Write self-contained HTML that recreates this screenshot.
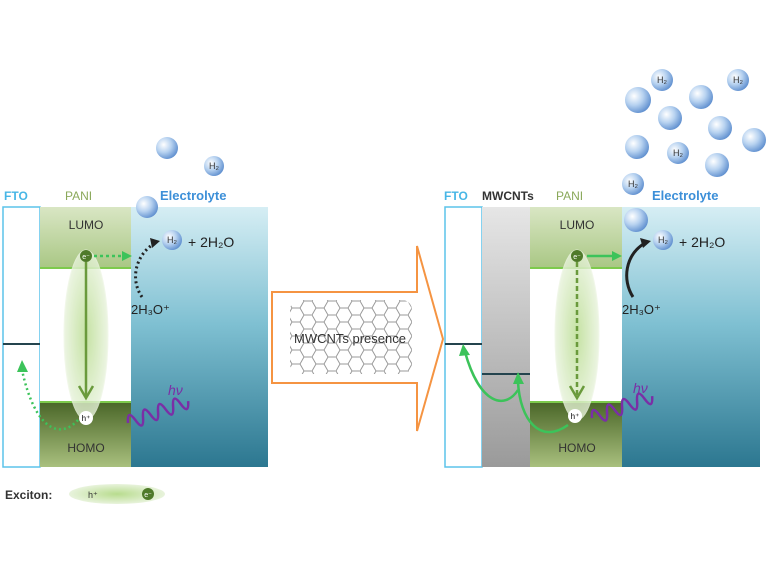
<!DOCTYPE html>
<html><head><style>body{margin:0;background:#fff}svg{display:block}text{font-family:"Comic Sans MS","Liberation Sans",sans-serif}</style></head><body>
<svg width="768" height="576" viewBox="0 0 768 576" xmlns="http://www.w3.org/2000/svg">
<defs>
<linearGradient id="el" x1="0" y1="0" x2="0" y2="1"><stop offset="0" stop-color="#d6eef4"/><stop offset="0.45" stop-color="#7fc0d2"/><stop offset="1" stop-color="#2c7790"/></linearGradient>
<linearGradient id="lu" x1="0" y1="0" x2="0" y2="1"><stop offset="0" stop-color="#d9e6c4"/><stop offset="1" stop-color="#a9c784"/></linearGradient>
<linearGradient id="ho" x1="0" y1="0" x2="0" y2="1"><stop offset="0" stop-color="#4a6628"/><stop offset="1" stop-color="#a9c07e"/></linearGradient>
<linearGradient id="gr" x1="0" y1="0" x2="0" y2="1"><stop offset="0" stop-color="#e6e6e6"/><stop offset="1" stop-color="#9a9a9a"/></linearGradient>
<radialGradient id="ex" cx="0.5" cy="0.5" r="0.5"><stop offset="0" stop-color="#b8dc8e"/><stop offset="1" stop-color="#e8f3dc"/></radialGradient>
<radialGradient id="bb" cx="0.35" cy="0.35" r="0.7"><stop offset="0" stop-color="#ffffff"/><stop offset="0.5" stop-color="#b7d2f0"/><stop offset="1" stop-color="#5f8fcf"/></radialGradient>
<pattern id="hex" width="24" height="14" patternUnits="userSpaceOnUse">
<path d="M0 7 L4 0 L12 0 L16 7 L12 14 L4 14 Z M16 7 L24 7" fill="none" stroke="#9a9a9a" stroke-width="1"/>
</pattern>
</defs>
<!-- LEFT -->
<rect x="3" y="207" width="37" height="260" fill="#fff" stroke="#5cc3ea" stroke-width="1.5"/>
<rect x="40" y="207" width="91" height="61" fill="url(#lu)"/>
<rect x="40" y="268" width="91" height="134" fill="#fff"/>
<rect x="40" y="402" width="91" height="65" fill="url(#ho)"/>
<line x1="40" y1="268" x2="131" y2="268" stroke="#7dca4c" stroke-width="2"/>
<line x1="40" y1="402" x2="131" y2="402" stroke="#7dca4c" stroke-width="2"/>
<rect x="131" y="207" width="137" height="260" fill="url(#el)"/>
<ellipse cx="86" cy="335" rx="22" ry="85" fill="url(#ex)" opacity="0.8" stroke="#eef6e4"/>
<line x1="3" y1="344" x2="40" y2="344" stroke="#24444e" stroke-width="2"/>
<line x1="86" y1="262" x2="86" y2="396" stroke="#6a9a3c" stroke-width="2.5"/>
<path d="M79 386 L86 398 L93 386" fill="none" stroke="#6a9a3c" stroke-width="2.5"/>
<circle cx="86" cy="256" r="6" fill="#4f7a2a"/><text x="86" y="259" font-size="7" fill="#fff" text-anchor="middle">e⁻</text>
<circle cx="86" cy="418" r="7" fill="#fff"/><text x="86" y="421" font-size="8" text-anchor="middle">h⁺</text>
<path d="M94 256 L124 256" stroke="#3cc35a" stroke-width="2.5" stroke-dasharray="3,3"/><path d="M122 251 L132 256 L122 261Z" fill="#3cc35a"/>
<path d="M142 297 C130 280 135 255 155 243" fill="none" stroke="#222" stroke-width="3" stroke-dasharray="2,3"/><path d="M150 238 L160 241 L152 248Z" fill="#222"/>
<path d="M78 420 C60 440 35 430 22 370" fill="none" stroke="#3cc35a" stroke-width="2.5" stroke-dasharray="2,3"/><path d="M17 372 L22 360 L28 372Z" fill="#3cc35a"/>
<path d="M128 423 q4 -14 8 0 q4 14 8 0 q4 -14 8 0 q4 14 8 0 q4 -14 8 0 q4 14 8 0 q4 -14 8 0 q4 14 8 0" transform="rotate(-20 128 423)" fill="none" stroke="#7a2fa6" stroke-width="2.5"/>
<text x="168" y="395" font-size="14" fill="#7a2fa6" font-style="italic">hν</text>
<text x="4" y="200" font-size="12" fill="#47b6e6" font-weight="bold">FTO</text>
<text x="65" y="200" font-size="12" fill="#8aa85a">PANI</text>
<text x="160" y="200" font-size="13" fill="#3c8fd8" font-weight="bold">Electrolyte</text>
<text x="86" y="229" font-size="12" fill="#333" text-anchor="middle">LUMO</text>
<text x="86" y="452" font-size="12" fill="#333" text-anchor="middle">HOMO</text>
<text x="131" y="314" font-size="13" fill="#222">2H₃O⁺</text>
<text x="188" y="247" font-size="14" fill="#222">+ 2H₂O</text>
<!-- arrow -->
<path d="M272 292 L417 292 L417 246 L443 339 L417 431 L417 383 L272 383 Z" fill="#fff" stroke="#f59442" stroke-width="2"/>
<rect x="290" y="300" width="122" height="74" rx="10" fill="url(#hex)"/>
<text x="350" y="343" font-size="13" fill="#333" text-anchor="middle">MWCNTs presence</text>
<!-- RIGHT -->
<rect x="445" y="207" width="37" height="260" fill="#fff" stroke="#5cc3ea" stroke-width="1.5"/>
<rect x="482" y="207" width="48" height="260" fill="url(#gr)"/>
<rect x="530" y="207" width="92" height="61" fill="url(#lu)"/>
<rect x="530" y="268" width="92" height="134" fill="#fff"/>
<rect x="530" y="402" width="92" height="65" fill="url(#ho)"/>
<line x1="530" y1="268" x2="622" y2="268" stroke="#7dca4c" stroke-width="2"/>
<line x1="530" y1="402" x2="622" y2="402" stroke="#7dca4c" stroke-width="2"/>
<rect x="622" y="207" width="138" height="260" fill="url(#el)"/>
<ellipse cx="577" cy="335" rx="22" ry="85" fill="url(#ex)" opacity="0.8" stroke="#eef6e4"/>
<line x1="445" y1="344" x2="482" y2="344" stroke="#24444e" stroke-width="2"/>
<line x1="482" y1="374" x2="530" y2="374" stroke="#24444e" stroke-width="2"/>
<line x1="577" y1="262" x2="577" y2="396" stroke="#6a9a3c" stroke-width="2.5" stroke-dasharray="5,3"/>
<path d="M570 386 L577 398 L584 386" fill="none" stroke="#6a9a3c" stroke-width="2.5"/>
<circle cx="577" cy="256" r="6" fill="#4f7a2a"/><text x="577" y="259" font-size="7" fill="#fff" text-anchor="middle">e⁻</text>
<circle cx="575" cy="416" r="7" fill="#fff"/><text x="575" y="419" font-size="8" text-anchor="middle">h⁺</text>
<path d="M587 256 L614 256" stroke="#3cc35a" stroke-width="2.5"/><path d="M612 251 L622 256 L612 261Z" fill="#3cc35a"/>
<path d="M633 297 C622 280 625 255 645 243" fill="none" stroke="#222" stroke-width="3"/><path d="M640 238 L651 241 L643 248Z" fill="#222"/>
<path d="M568 425 C540 445 520 420 518 382" fill="none" stroke="#3cc35a" stroke-width="2.5"/><path d="M513 384 L518 372 L524 384Z" fill="#3cc35a"/>
<path d="M518 390 C505 410 480 405 465 352" fill="none" stroke="#3cc35a" stroke-width="2.5"/><path d="M459 356 L463 344 L470 355Z" fill="#3cc35a"/>
<path d="M592 418 q4 -14 8 0 q4 14 8 0 q4 -14 8 0 q4 14 8 0 q4 -14 8 0 q4 14 8 0 q4 -14 8 0 q4 14 8 0" transform="rotate(-20 592 418)" fill="none" stroke="#7a2fa6" stroke-width="2.5"/>
<text x="633" y="393" font-size="14" fill="#7a2fa6" font-style="italic">hν</text>
<text x="444" y="200" font-size="12" fill="#47b6e6" font-weight="bold">FTO</text>
<text x="482" y="200" font-size="12" fill="#333" font-weight="bold">MWCNTs</text>
<text x="556" y="200" font-size="12" fill="#8aa85a">PANI</text>
<text x="652" y="200" font-size="13" fill="#3c8fd8" font-weight="bold">Electrolyte</text>
<text x="577" y="229" font-size="12" fill="#333" text-anchor="middle">LUMO</text>
<text x="577" y="452" font-size="12" fill="#333" text-anchor="middle">HOMO</text>
<text x="622" y="314" font-size="13" fill="#222">2H₃O⁺</text>
<text x="679" y="247" font-size="14" fill="#222">+ 2H₂O</text>
<!-- bubbles -->
<g fill="url(#bb)">
<circle cx="167" cy="148" r="11"/><circle cx="147" cy="207" r="11"/>
<circle cx="638" cy="100" r="13"/><circle cx="701" cy="97" r="12"/><circle cx="670" cy="118" r="12"/><circle cx="720" cy="128" r="12"/><circle cx="754" cy="140" r="12"/><circle cx="637" cy="147" r="12"/><circle cx="717" cy="165" r="12"/><circle cx="636" cy="220" r="12"/>
</g>
<g font-size="9" fill="#333" text-anchor="middle">
<circle cx="214" cy="166" r="10" fill="url(#bb)"/><text x="214" y="169">H₂</text>
<circle cx="172" cy="240" r="10" fill="url(#bb)"/><text x="172" y="243">H₂</text>
<circle cx="662" cy="80" r="11" fill="url(#bb)"/><text x="662" y="83">H₂</text>
<circle cx="738" cy="80" r="11" fill="url(#bb)"/><text x="738" y="83">H₂</text>
<circle cx="678" cy="153" r="11" fill="url(#bb)"/><text x="678" y="156">H₂</text>
<circle cx="633" cy="184" r="11" fill="url(#bb)"/><text x="633" y="187">H₂</text>
<circle cx="663" cy="240" r="10" fill="url(#bb)"/><text x="663" y="243">H₂</text>
</g>
<!-- legend -->
<text x="5" y="499" font-size="12" fill="#333" font-weight="bold">Exciton:</text>
<ellipse cx="117" cy="494" rx="48" ry="10" fill="url(#ex)"/>
<text x="88" y="498" font-size="9" fill="#333">h⁺</text>
<circle cx="148" cy="494" r="6" fill="#4f7a2a"/><text x="148" y="497" font-size="7" fill="#fff" text-anchor="middle">e⁻</text>
</svg>
</body></html>
